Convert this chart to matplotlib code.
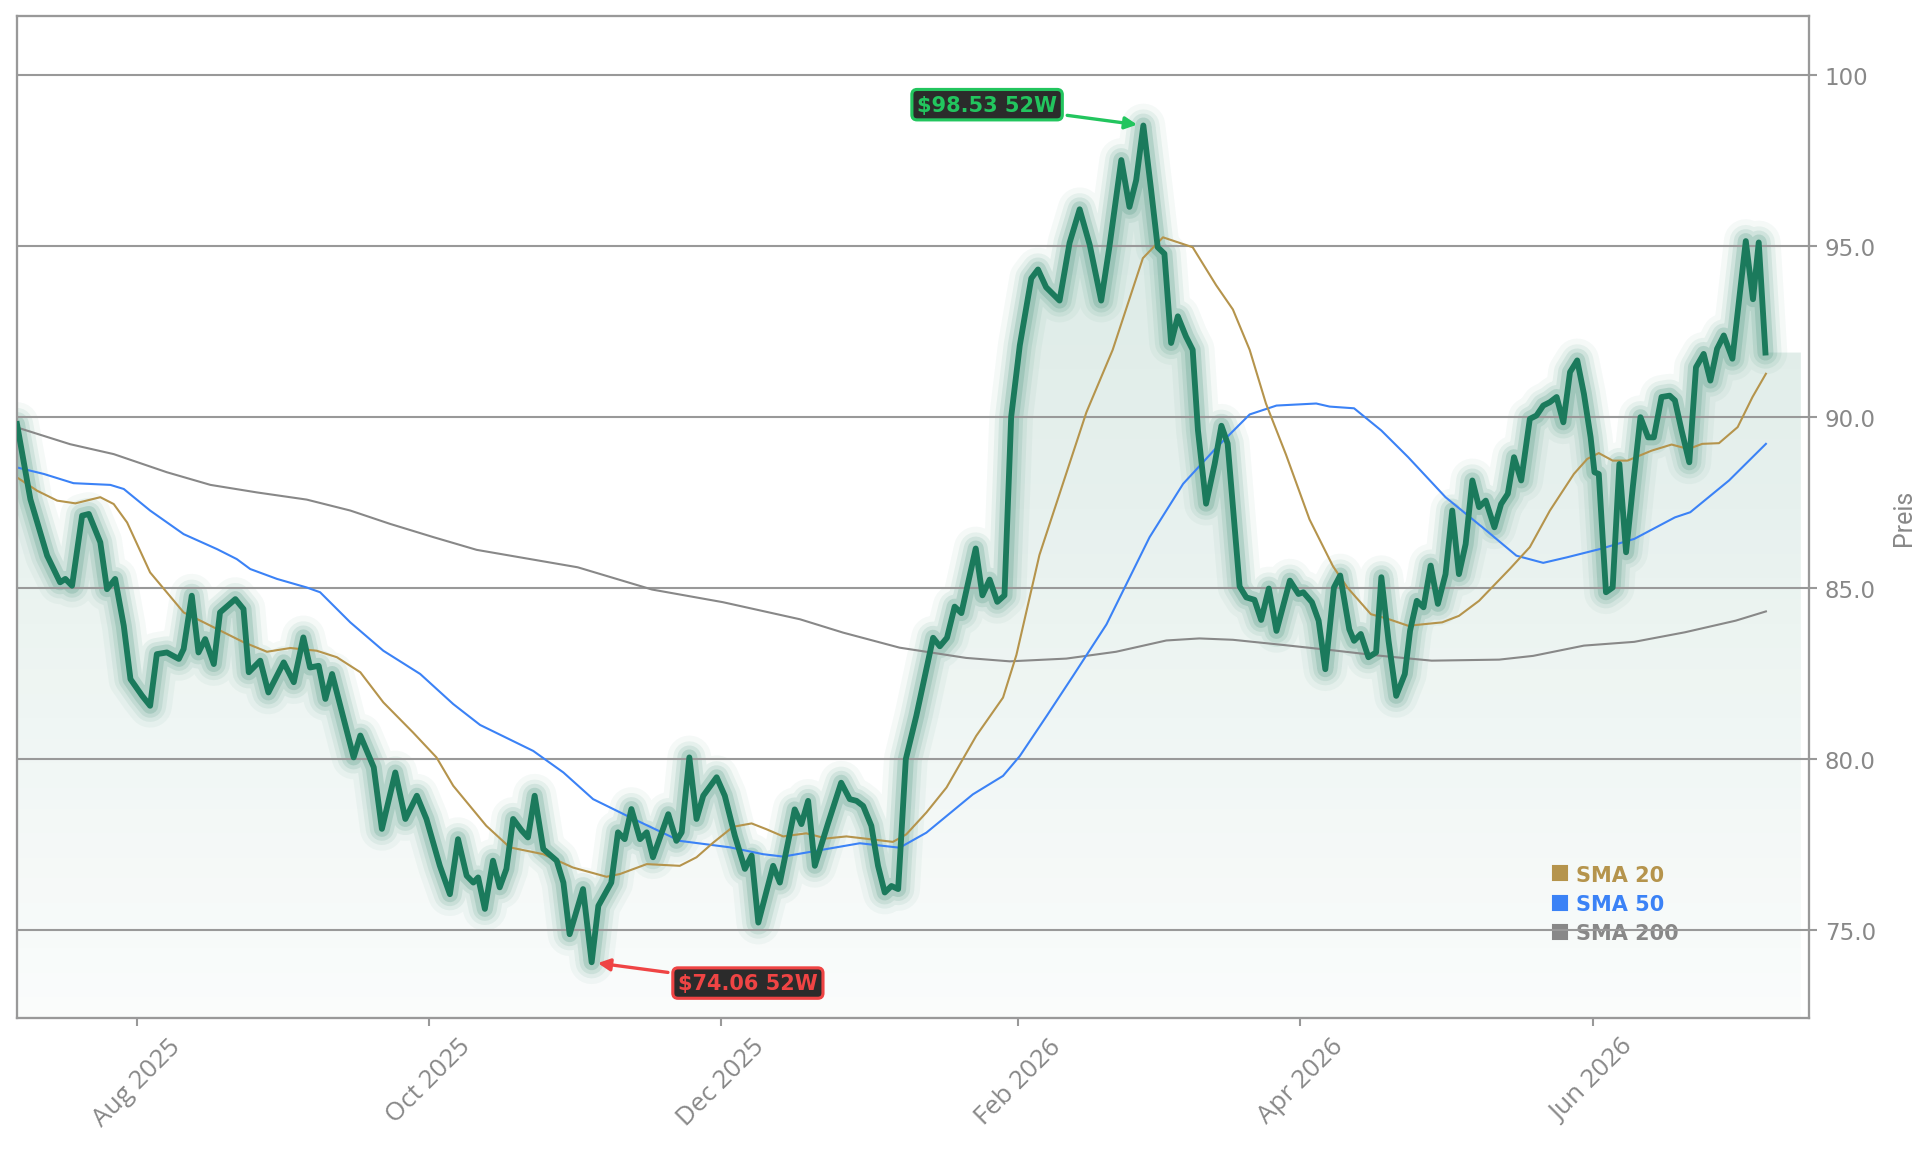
import numpy as np
import matplotlib.pyplot as plt
import matplotlib.dates as mdates
from matplotlib.lines import Line2D
from matplotlib.patches import Polygon

start = np.datetime64('2025-07-07')

# close price (days since start, value)
price_days = [0.0, 2.8, 6.3, 9.0, 10.1, 11.5, 13.6, 15.0, 17.4, 18.8, 20.5, 22.3, 23.7, 26.1, 27.8,
              29.2, 31.3, 33.8, 34.8, 36.5, 37.9, 39.3, 41.1, 42.4, 45.6, 47.3, 48.4, 50.8, 52.5,
              55.7, 57.8, 59.8, 61.2, 63.0, 64.4, 65.8, 70.3, 71.7, 74.5, 76.2, 79.0, 81.1, 83.5,
              85.5, 88.3, 90.4, 92.1, 93.9, 95.3, 96.3, 97.7, 99.4, 100.8, 102.2, 103.6, 105.4,
              106.7, 108.1, 109.9, 112.7, 114.1, 115.4, 118.2, 120.0, 121.4, 124.1, 125.5, 126.9,
              128.3, 130.1, 131.5, 132.8, 136.0, 137.7, 138.8, 140.4, 141.9, 143.3, 146.1, 147.8,
              149.9, 152.0, 153.4, 154.8, 157.9, 159.3, 162.4, 163.8, 165.2, 166.6, 169.4, 172.1,
              173.9, 175.3, 176.7, 178.4, 179.8, 181.2, 182.6, 184.0, 185.6, 187.8, 191.3, 192.7,
              194.2, 195.8, 197.2, 200.2, 201.6, 203.1, 204.7, 206.2, 207.6, 209.4, 211.8, 213.2,
              214.9, 217.7, 219.8, 221.9, 224.0, 226.4, 228.1, 230.6, 232.3, 233.7, 235.2, 236.8,
              238.2, 239.6, 241.0, 242.4, 244.1, 245.5, 246.6, 248.3, 250.1, 251.5, 252.8, 253.9,
              255.3, 256.7, 258.4, 259.8, 261.4, 263.0, 265.8, 267.6, 268.6, 270.4, 271.8, 273.2,
              275.0, 276.3, 278.2, 279.2, 280.6, 282.2, 283.8, 284.9, 286.4, 288.0, 289.8, 290.9,
              292.3, 293.7, 295.2, 296.7, 298.3, 299.7, 301.1, 302.5, 303.9, 305.3, 306.7, 308.5,
              309.9, 311.3, 312.6, 314.1, 315.9, 317.3, 318.7, 320.1, 321.5, 322.9, 324.3, 325.8,
              327.2, 328.6, 329.4, 330.3, 331.8, 333.2, 334.6, 336.0, 337.4, 339.0, 340.6, 341.8,
              343.4, 345.1, 346.2, 347.6, 349.2, 350.6, 352.2, 353.6, 355.0, 356.4, 358.2, 361.0,
              362.5, 363.7, 365.1]
price = [89.8, 87.6, 85.95, 85.17, 85.27, 85.07, 87.12, 87.17, 86.34, 84.97, 85.27, 83.9, 82.34, 81.86, 81.56,
         83.07, 83.12, 82.93, 83.22, 84.78, 83.12, 83.51, 82.78, 84.29, 84.68, 84.39, 82.54, 82.88, 81.95,
         82.83, 82.25, 83.56, 82.68, 82.73, 81.76, 82.49, 80.05, 80.69, 79.76, 77.96, 79.61, 78.25, 78.93,
         78.25, 76.88, 76.05, 77.66, 76.59, 76.39, 76.54, 75.62, 77.03, 76.25, 76.79, 78.25, 77.91,
         77.71, 78.93, 77.37, 77.03, 76.39, 74.88, 76.2, 74.06, 75.71, 76.39, 77.86, 77.66,
         78.54, 77.66, 77.86, 77.13, 78.39, 77.61, 77.86, 80.05, 78.25, 78.93, 79.47, 78.93,
         77.76, 76.79, 77.18, 75.22, 76.88, 76.39, 78.53, 78.1, 78.78, 76.88, 78.14, 79.31,
         78.83, 78.78, 78.63, 78.05, 76.88, 76.1, 76.29, 76.2, 80.0, 81.27, 83.55, 83.3,
         83.55, 84.46, 84.27, 86.16, 84.79, 85.25, 84.6, 84.79, 90.01, 92.1, 94.06, 94.32,
         93.8, 93.41, 95.1, 96.08, 95.04, 93.41, 94.97, 97.52, 96.15, 96.93, 98.53, 96.67,
         94.97, 94.78, 92.17, 92.95, 92.36, 91.97, 89.62, 87.47, 88.64, 89.75, 89.23, 87.4,
         85.05, 84.73, 84.66, 84.07, 84.99, 83.75, 85.22, 84.83, 84.88, 84.59, 84.05, 82.63,
         85.02, 85.37, 83.8, 83.46, 83.66, 82.98, 83.12, 85.32, 83.46, 81.85, 82.49, 83.76,
         84.63, 84.44, 85.66, 84.54, 85.41, 87.27, 85.41, 86.29, 88.15, 87.37, 87.56, 86.78,
         87.46, 87.76, 88.83, 88.15, 89.95, 90.05, 90.34, 90.44, 90.59, 89.85, 91.32, 91.66,
         90.68, 89.41, 88.39, 88.34, 84.88, 85.02, 88.63, 86.05, 87.95, 90.0, 89.41, 89.41,
         90.59, 90.63, 90.49, 89.61, 88.68, 91.46, 91.85, 91.07, 92.0, 92.39, 91.71, 95.15,
         93.45, 95.11, 91.89]

sma20_days = [0, 4.2, 8.4, 12.2, 17.4, 20.2, 23.0, 27.8, 34.8, 39.0, 47.3, 52.2, 57.1, 62.6, 66.8,
              71.7, 76.5, 82.7, 87.6, 91.1, 98.0, 102.9, 109.9, 116.1, 123.1, 125.9, 131.5, 138.4,
              141.9, 145.4, 149.5, 153.4, 156.5, 160.0, 164.8, 169.0, 173.2, 178.1, 182.9, 185.7,
              189.9, 194.1, 200.3, 205.9, 208.7, 213.5, 223.3, 228.8, 235.1, 239.3, 245.5, 250.4,
              253.9, 257.4, 260.8, 265.0, 269.9, 274.8, 277.8, 282.7, 286.3, 290.5, 297.6, 301.1,
              305.3, 311.7, 315.9, 320.1, 325.1, 327.9, 330.3, 333.2, 336.3, 341.3, 345.5, 349.0,
              351.9, 355.4, 359.3, 362.4, 365.2]
sma20 = [88.24, 87.85, 87.56, 87.48, 87.66, 87.46, 86.92, 85.46, 84.29, 84.0, 83.42, 83.14, 83.25, 83.17, 82.98,
         82.54, 81.66, 80.78, 80.05, 79.22, 78.05, 77.42, 77.22, 76.83, 76.56, 76.64, 76.93, 76.88,
         77.13, 77.56, 78.02, 78.12, 77.95, 77.74, 77.83, 77.68, 77.74, 77.66, 77.58, 77.8,
         78.44, 79.17, 80.68, 81.8, 83.05, 85.97, 90.14, 91.97, 94.65, 95.26, 94.97, 93.86,
         93.15, 91.97, 90.4, 88.9, 87.01, 85.64, 85.02, 84.24, 84.1, 83.9, 84.0, 84.19,
         84.63, 85.56, 86.2, 87.27, 88.34, 88.78, 88.95, 88.73, 88.73, 89.02, 89.2, 89.07,
         89.22, 89.24, 89.71, 90.59, 91.27]

sma50_days = [0, 5.6, 11.8, 19.5, 22.3, 27.8, 34.8, 41.8, 45.9, 48.7, 54.3, 60.5, 63.3, 69.6, 76.5,
              84.2, 91.1, 96.7, 107.8, 114.1, 120.3, 128.0, 138.4, 148.9, 155.8, 160.0, 169.0, 176.0,
              184.3, 189.9, 199.6, 205.9, 209.4, 215.0, 220.5, 227.5, 236.5, 243.5, 250.4, 257.4,
              263.0, 271.3, 274.1, 279.2, 284.9, 290.5, 298.3, 306.0, 313.1, 318.7, 323.6, 330.7,
              337.7, 346.2, 349.4, 357.5, 365.2]
sma50 = [88.53, 88.34, 88.07, 88.02, 87.9, 87.27, 86.58, 86.14, 85.85, 85.56, 85.27, 85.02, 84.88, 84.0, 83.17,
         82.49, 81.61, 81.0, 80.24, 79.61, 78.83, 78.3, 77.61, 77.42, 77.22, 77.15, 77.37, 77.54,
         77.41, 77.85, 78.97, 79.51, 80.09, 81.26, 82.43, 83.94, 86.49, 88.05, 89.1, 90.08,
         90.34, 90.4, 90.31, 90.26, 89.61, 88.83, 87.66, 86.78, 85.95, 85.74, 85.9, 86.15,
         86.44, 87.07, 87.22, 88.15, 89.22]

sma200_days = [0, 11.1, 20.2, 31.3, 40.4, 50.1, 60.5, 69.6, 77.9, 87.0, 96.0, 117.1, 132.6, 147.4,
               163.5, 172.5, 184.3, 198.2, 207.3, 219.1, 229.5, 240.0, 246.9, 253.9, 264.3, 274.3,
               284.9, 295.4, 309.5, 316.6, 327.2, 337.7, 348.3, 358.9, 365.2]
sma200 = [89.7, 89.21, 88.92, 88.39, 88.02, 87.8, 87.59, 87.27, 86.88, 86.49, 86.12, 85.61, 84.96, 84.59,
          84.09, 83.7, 83.26, 82.96, 82.86, 82.94, 83.14, 83.47, 83.53, 83.49, 83.34, 83.19,
          83.02, 82.88, 82.91, 83.02, 83.32, 83.43, 83.71, 84.05, 84.32]

y_ticks = [75, 80, 85, 90, 95, 100]
y_labels = ['75.0', '80.0', '85.0', '90.0', '95.0', '100']

green = '#1b7a5c'
c20, c50, c200 = '#b5944c', '#3b82f6', '#888888'
grey = '#888888'


def to_num(days):
    return mdates.date2num(start) + np.asarray(days, dtype=float)


fig = plt.figure(figsize=(12.86, 7.673), dpi=150)
ax = fig.add_axes([0.0088, 0.1147, 0.929, 0.8705])

x = to_num(price_days)
y = np.asarray(price)
x0 = x[0]
x_end = x[-1] + 7.4
ymin, ymax = 72.43, 101.73

# gradient fill under the price line
grad = np.zeros((256, 1, 4))
grad[:, 0, :3] = np.array([27, 122, 92]) / 255
grad[:, 0, 3] = np.linspace(0.17, 0.02, 256)
img = ax.imshow(grad, aspect='auto', extent=[x0, x_end, ymin, y.max()],
                origin='upper', zorder=1)
poly_x = np.concatenate([x, [x_end, x_end, x0]])
poly_y = np.concatenate([y, [y[-1], ymin, ymin]])
clip = Polygon(np.column_stack([poly_x, poly_y]), closed=True, facecolor='none',
               edgecolor='none', transform=ax.transData)
ax.add_patch(clip)
img.set_clip_path(clip)

for yt in y_ticks:
    ax.axhline(yt, color='#999999', lw=1.0, zorder=2)

# glow around the price line
for lw, a in [(21, 0.045), (15.5, 0.07), (11.5, 0.1), (7.7, 0.16)]:
    ax.plot(x, y, color=green, lw=lw, alpha=a, solid_joinstyle='round',
            solid_capstyle='round', zorder=1.6)

ax.plot(to_num(sma200_days), sma200, color=c200, lw=1.0, zorder=2.5)
ax.plot(to_num(sma50_days), sma50, color=c50, lw=1.0, zorder=2.5)
ax.plot(to_num(sma20_days), sma20, color=c20, lw=1.0, zorder=2.5)
ax.plot(x, y, color=green, lw=2.8, solid_joinstyle='round', zorder=3)

# 52 week high / low
i_hi, i_lo = int(np.argmax(y)), int(np.argmin(y))
ax.annotate(f'${y[i_hi]:.2f} 52W', xy=(x[i_hi], y[i_hi]), xytext=(-75, 10),
            textcoords='offset points', ha='center', va='center',
            fontsize=10, fontweight='bold', color='#22c55e',
            bbox=dict(boxstyle='round,pad=0.25', fc='#2b2b2b', ec='#22c55e', lw=1.5),
            arrowprops=dict(arrowstyle='-|>', color='#22c55e', lw=1.6, mutation_scale=12,
                            shrinkB=3), zorder=6)
ax.annotate(f'${y[i_lo]:.2f} 52W', xy=(x[i_lo], y[i_lo]), xytext=(75, -10),
            textcoords='offset points', ha='center', va='center',
            fontsize=10, fontweight='bold', color='#ef4444',
            bbox=dict(boxstyle='round,pad=0.25', fc='#2b2b2b', ec='#ef4444', lw=1.5),
            arrowprops=dict(arrowstyle='-|>', color='#ef4444', lw=1.6, mutation_scale=12,
                            shrinkB=3), zorder=6)

handles = [Line2D([], [], marker='s', ls='none', color=c, markersize=7)
           for c in (c20, c50, c200)]
leg = ax.legend(handles, ['SMA 20', 'SMA 50', 'SMA 200'], loc='lower right',
                bbox_to_anchor=(0.932, 0.066), frameon=False, handlelength=0.6,
                handletextpad=0.5, labelspacing=0.45, borderaxespad=0,
                prop={'weight': 'bold', 'size': 10})
for t, c in zip(leg.get_texts(), (c20, c50, c200)):
    t.set_color(c)
leg.set_zorder(1.8)

ax.set_xlim(x0, x0 + 374.2)
ax.set_ylim(ymin, ymax)
ax.yaxis.tick_right()
ax.yaxis.set_label_position('right')
ax.set_yticks(y_ticks, y_labels)
ax.set_ylabel('Preis', color=grey, fontsize=12,
              family=['Liberation Sans Narrow', 'Roboto', 'DejaVu Sans'], labelpad=8)

ax.xaxis.set_major_locator(mdates.MonthLocator(bymonth=[2, 4, 6, 8, 10, 12]))
ax.xaxis.set_major_formatter(mdates.DateFormatter('%b %Y'))
for lab in ax.get_xticklabels():
    lab.set_rotation(45)
    lab.set_family(['Open Sans', 'DejaVu Sans'])
    lab.set_fontsize(12.5)

ax.tick_params(axis='both', colors='#999999', labelcolor=grey, length=4, width=1)
ax.tick_params(axis='y', labelsize=11)
for s in ax.spines.values():
    s.set_color('#999999')
    s.set_linewidth(1.1)

fig.savefig('out.png', dpi=150, facecolor='white')
